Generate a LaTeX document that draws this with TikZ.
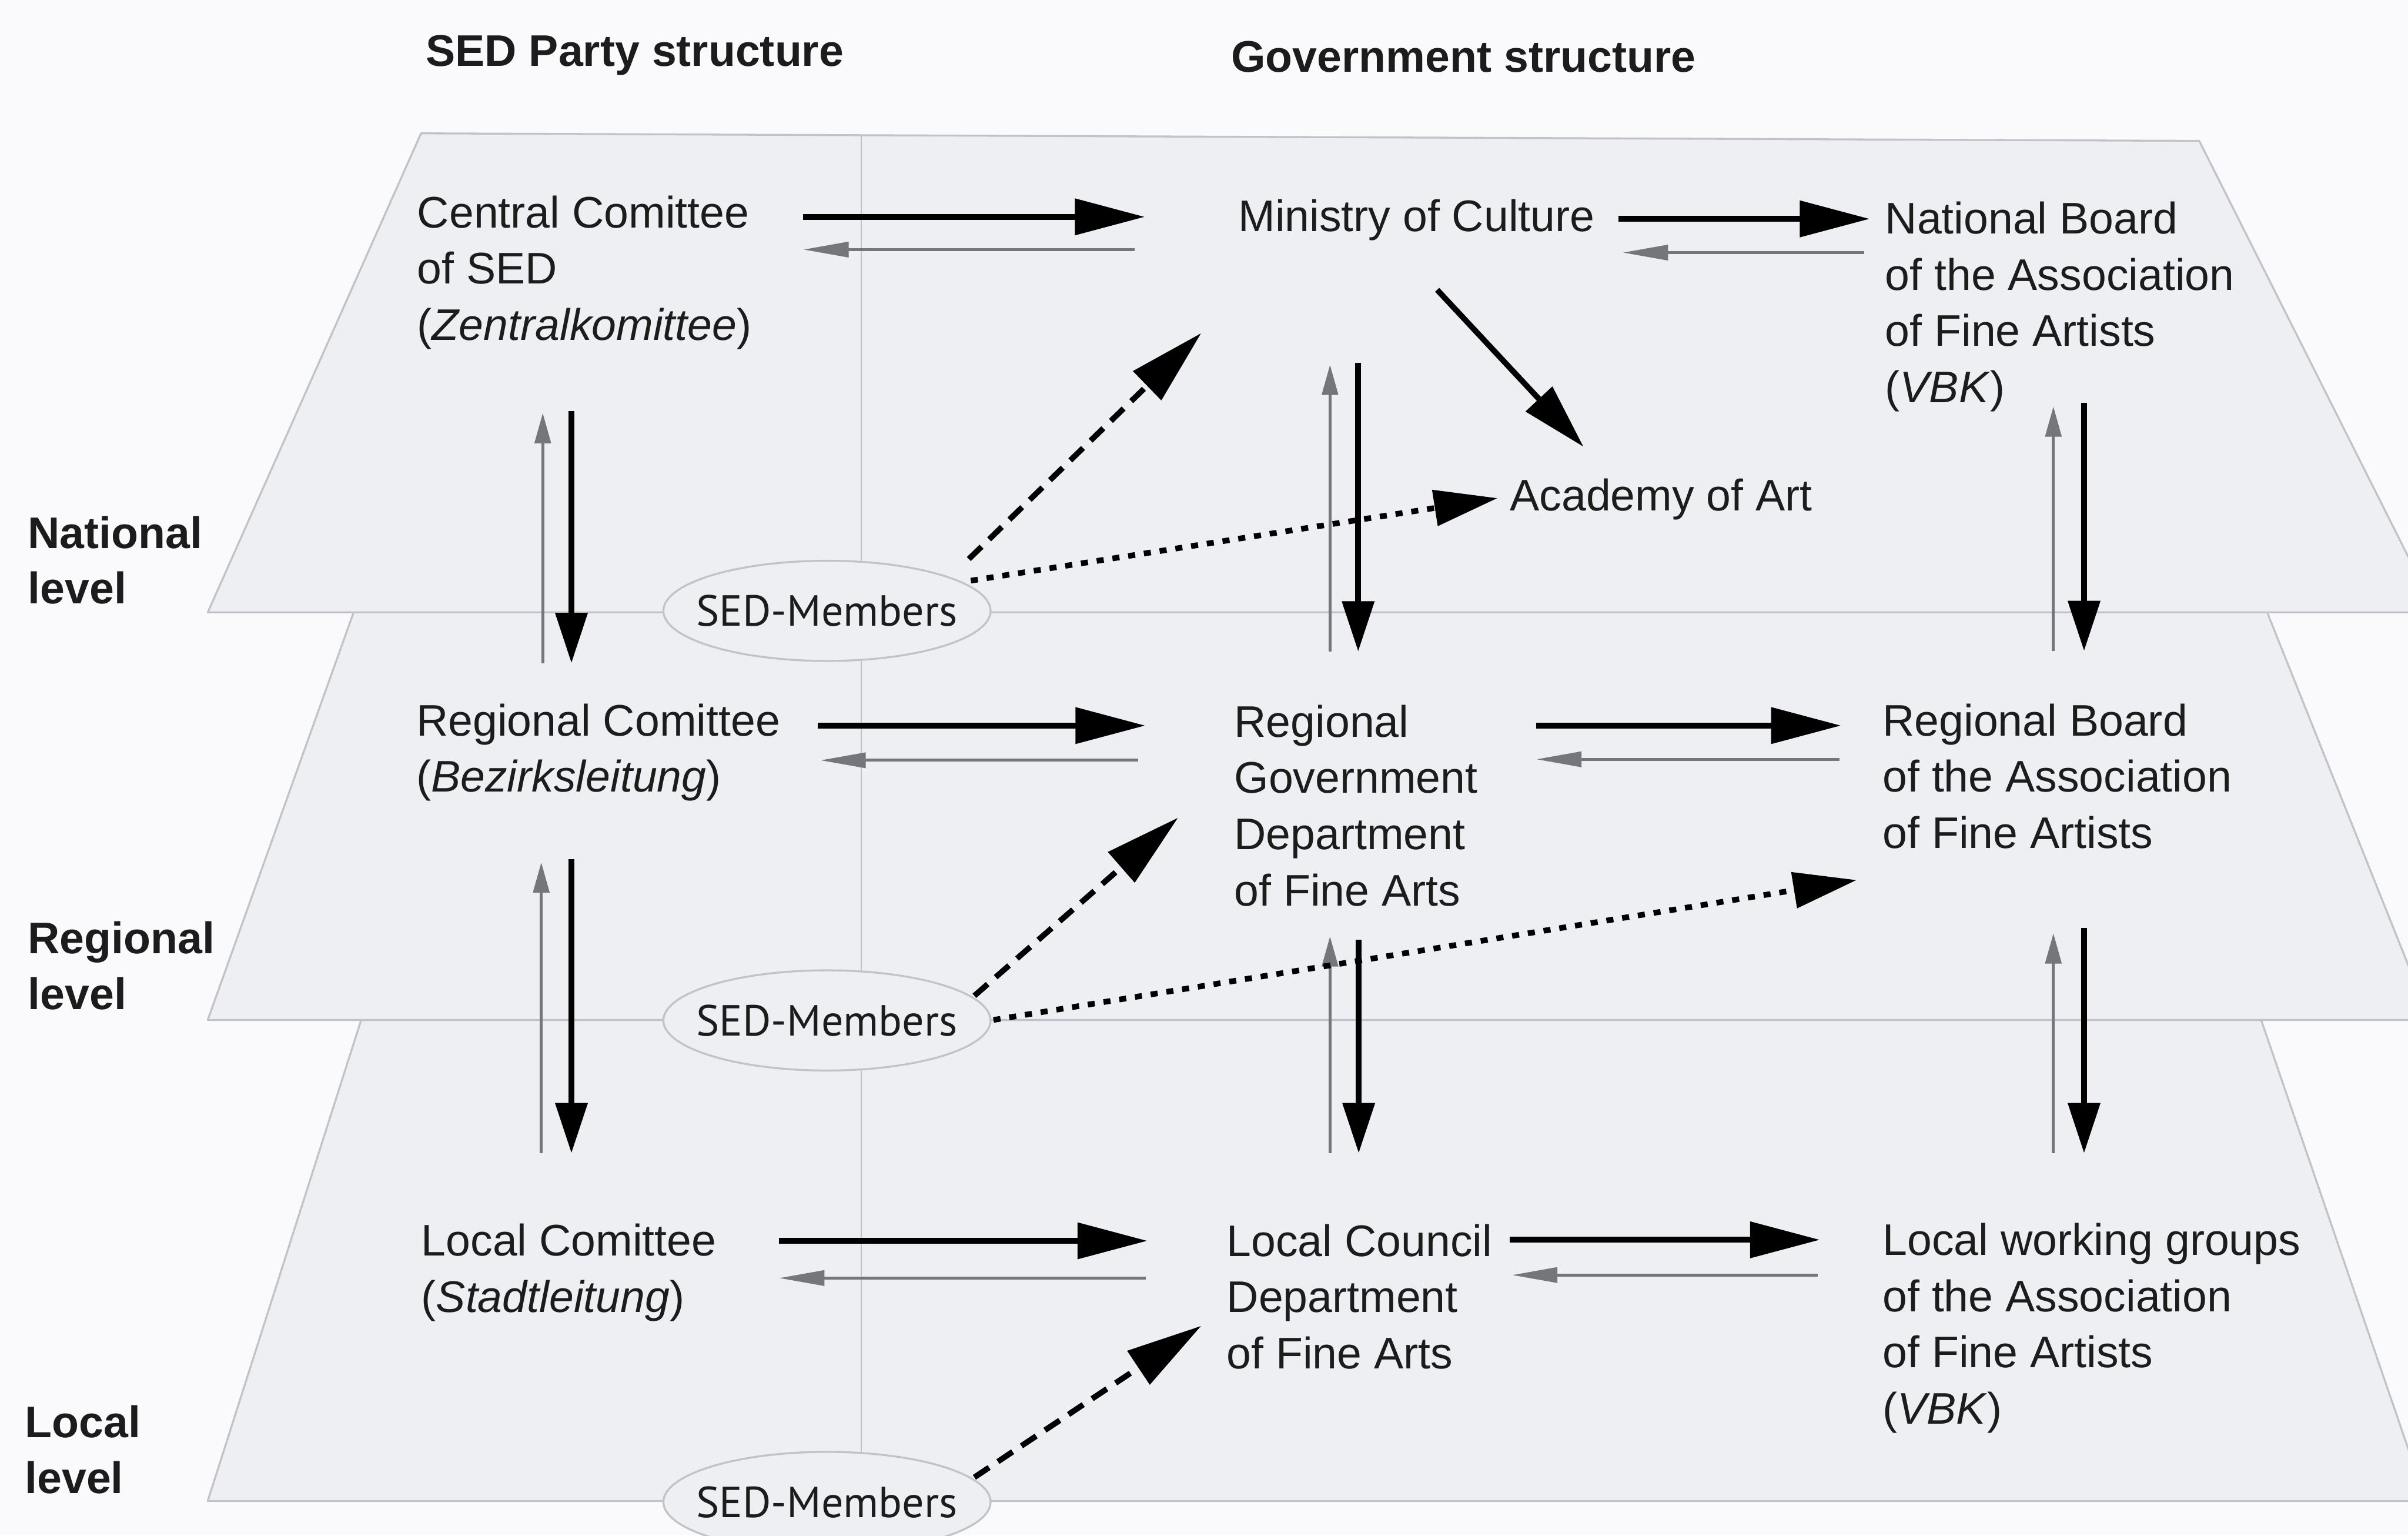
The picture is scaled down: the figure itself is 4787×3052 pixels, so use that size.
\documentclass[tikz,border=0pt]{standalone}
\usepackage{fontspec}
\setmainfont{Liberation Sans}
\newfontfamily\membfont{PT Sans}
\usetikzlibrary{arrows.meta,shapes.geometric}
\definecolor{bgc}{HTML}{FAFAFC}
\definecolor{planec}{HTML}{EEEFF2}
\definecolor{edgec}{HTML}{C2C3C8}
\definecolor{greyarr}{HTML}{75757C}
\definecolor{txt}{HTML}{1C1C1C}
\tikzset{
  lbl/.style={anchor=base west, inner sep=0pt, align=left, font=\fontsize{25}{31.8}\selectfont, text=txt},
  headlbl/.style={lbl, font=\fontsize{25}{31.5}\selectfont\bfseries},
  plane/.style={fill=planec, draw=edgec, line width=1.1pt, line join=round},
  memb/.style={ellipse, draw=edgec, fill=planec, line width=1.1pt, minimum width=6.5cm, minimum height=1.99cm, inner sep=0pt, font=\membfont\fontsize{24.6}{30}\selectfont, text=txt},
  thickh/.style={line width=3.4pt, black, -{Triangle[length=1.39cm,width=0.70cm]}},
  thickv/.style={line width=3.4pt, black, -{Triangle[length=1.0cm,width=0.62cm]}},
  greyh/.style={line width=1.6pt, greyarr, -{Triangle[length=0.9cm,width=0.3cm]}},
  greyv/.style={line width=1.6pt, greyarr, -{Triangle[length=0.6cm,width=0.32cm]}},
  diagarr/.style={line width=3.2pt, black, -{Triangle[length=1.3cm,width=0.7cm]}},
  dasharr/.style={line width=3.2pt, black, dash pattern=on 10pt off 6pt, -{Triangle[length=1.5cm,width=0.78cm]}},
  dotarr/.style={line width=3.2pt, black, dash pattern=on 4pt off 5pt, -{Triangle[length=1.26cm,width=0.70cm]}}
}
\begin{document}
\begin{tikzpicture}[x=0.01cm,y=-0.01cm]
\useasboundingbox (0,0) rectangle (4787,3052);
\fill[bgc] (0,0) rectangle (4787,3052);
\clip (0,0) rectangle (4787,3052);
% planes
\draw[plane] (718,2027) -- (4495,2027) -- (4823,2983) -- (413,2983) -- cycle;
\draw[plane] (703,1217) -- (4507,1217) -- (4831,2027) -- (413,2027) -- cycle;
\draw[plane] (837,265) -- (4372,280) -- (4843,1217) -- (413,1217) -- cycle;
% separator line
\coordinate (sepT) at (1712,268);
\coordinate (sepB) at (1712,2981);
\draw[edgec, line width=0.9pt] (sepT) -- (sepB);
% headings (anchor = baseline of last line)
\node[headlbl] (hsed) at (846,131) {SED Party structure};
\node[headlbl] (hgov) at (2447,143) {Government structure};
\node[headlbl] (lnat) at (55,1200) {National\\level};
\node[headlbl] (lreg) at (55,2006) {Regional\\level};
\node[headlbl] (lloc) at (49,2968) {Local\\level};
% labels (anchor = baseline of last line)
\node[lbl] (cc) at (829,676) {Central Comittee\\of SED\\(\textit{Zentralkomittee})};
\node[lbl] (moc) at (2461,460) {Ministry of Culture};
\node[lbl] (nb) at (3747,800) {National Board\\of the Association\\of Fine Artists\\(\textit{VBK})};
\node[lbl] (aca) at (3001,1015) {Academy of Art};
\node[lbl] (rc) at (827,1574) {Regional Comittee\\(\textit{Bezirksleitung})};
\node[lbl] (rg) at (2453,1800) {Regional\\Government\\Department\\of Fine Arts};
\node[lbl] (rb) at (3742,1686) {Regional Board\\of the Association\\of Fine Artists};
\node[lbl] (lc) at (837,2608) {Local Comittee\\(\textit{Stadtleitung})};
\node[lbl] (lcd) at (2438,2720) {Local Council\\Department\\of Fine Arts};
\node[lbl] (lw) at (3742,2830) {Local working groups\\of the Association\\of Fine Artists\\(\textit{VBK})};
% members ellipses
\node[memb] (m1) at (1644,1214) {\makebox[0pt]{SED-Members}};
\node[memb] (m2) at (1644,2028) {\makebox[0pt]{SED-Members}};
\node[memb] (m3) at (1644,2985) {\makebox[0pt]{SED-Members}};
% horizontal arrow end points
\coordinate (h1aS) at (1597,431); \coordinate (h1aE) at (2276,431);
\coordinate (g1aS) at (2255,496); \coordinate (g1aE) at (1597,496);
\coordinate (h1bS) at (3217,435); \coordinate (h1bE) at (3717,435);
\coordinate (g1bS) at (3706,502); \coordinate (g1bE) at (3226,502);
\coordinate (h2aS) at (1626,1442); \coordinate (h2aE) at (2277,1442);
\coordinate (g2aS) at (2263,1511); \coordinate (g2aE) at (1631,1511);
\coordinate (h2bS) at (3054,1442); \coordinate (h2bE) at (3660,1442);
\coordinate (g2bS) at (3657,1509); \coordinate (g2bE) at (3054,1509);
\coordinate (h3aS) at (1549,2466); \coordinate (h3aE) at (2281,2466);
\coordinate (g3aS) at (2278,2540); \coordinate (g3aE) at (1549,2540);
\coordinate (h3bS) at (3001,2464); \coordinate (h3bE) at (3618,2464);
\coordinate (g3bS) at (3613,2534); \coordinate (g3bE) at (3006,2534);
\draw[thickh] (h1aS) -- (h1aE); \draw[greyh] (g1aS) -- (g1aE);
\draw[thickh] (h1bS) -- (h1bE); \draw[greyh] (g1bS) -- (g1bE);
\draw[thickh] (h2aS) -- (h2aE); \draw[greyh] (g2aS) -- (g2aE);
\draw[thickh] (h2bS) -- (h2bE); \draw[greyh] (g2bS) -- (g2bE);
\draw[thickh] (h3aS) -- (h3aE); \draw[greyh] (g3aS) -- (g3aE);
\draw[thickh] (h3bS) -- (h3bE); \draw[greyh] (g3bS) -- (g3bE);
% vertical arrow end points
\coordinate (v1aS) at (1136,817);  \coordinate (v1aE) at (1136,1318);
\coordinate (u1aS) at (1079,1318); \coordinate (u1aE) at (1079,821);
\coordinate (v1bS) at (2700,721);  \coordinate (v1bE) at (2700,1295);
\coordinate (u1bS) at (2644,1295); \coordinate (u1bE) at (2644,725);
\coordinate (v1cS) at (4143,800);  \coordinate (v1cE) at (4143,1294);
\coordinate (u1cS) at (4082,1294); \coordinate (u1cE) at (4082,808);
\coordinate (v2aS) at (1136,1708); \coordinate (v2aE) at (1136,2292);
\coordinate (u2aS) at (1076,2292); \coordinate (u2aE) at (1076,1714);
\coordinate (v2bS) at (2701,1867); \coordinate (v2bE) at (2701,2292);
\coordinate (u2bS) at (2644,2292); \coordinate (u2bE) at (2644,1861);
\coordinate (v2cS) at (4143,1844); \coordinate (v2cE) at (4143,2292);
\coordinate (u2cS) at (4082,2292); \coordinate (u2cE) at (4082,1855);
\draw[thickv] (v1aS) -- (v1aE); \draw[greyv] (u1aS) -- (u1aE);
\draw[thickv] (v1bS) -- (v1bE); \draw[greyv] (u1bS) -- (u1bE);
\draw[thickv] (v1cS) -- (v1cE); \draw[greyv] (u1cS) -- (u1cE);
\draw[thickv] (v2aS) -- (v2aE); \draw[greyv] (u2aS) -- (u2aE);
\draw[thickv] (v2bS) -- (v2bE); \draw[greyv] (u2bS) -- (u2bE);
\draw[thickv] (v2cS) -- (v2cE); \draw[greyv] (u2cS) -- (u2cE);
% ministry to academy
\coordinate (maS) at (2857,576); \coordinate (maE) at (3148,888);
\draw[diagarr] (maS) -- (maE);
% member influence arrows
\coordinate (d1S) at (1926,1111); \coordinate (d1E) at (2388,662);
\coordinate (d2S) at (1930,1154); \coordinate (d2E) at (2977,990);
\coordinate (d3S) at (1937,1979); \coordinate (d3E) at (2342,1625);
\coordinate (d4S) at (1975,2027); \coordinate (d4E) at (3691,1749);
\coordinate (d5S) at (1937,2936); \coordinate (d5E) at (2388,2635);
\draw[dasharr] (d1S) -- (d1E);
\draw[dotarr] (d2S) -- (d2E);
\draw[dasharr] (d3S) -- (d3E);
\draw[dotarr] (d4S) -- (d4E);
\draw[dasharr] (d5S) -- (d5E);
\end{tikzpicture}
\end{document}
